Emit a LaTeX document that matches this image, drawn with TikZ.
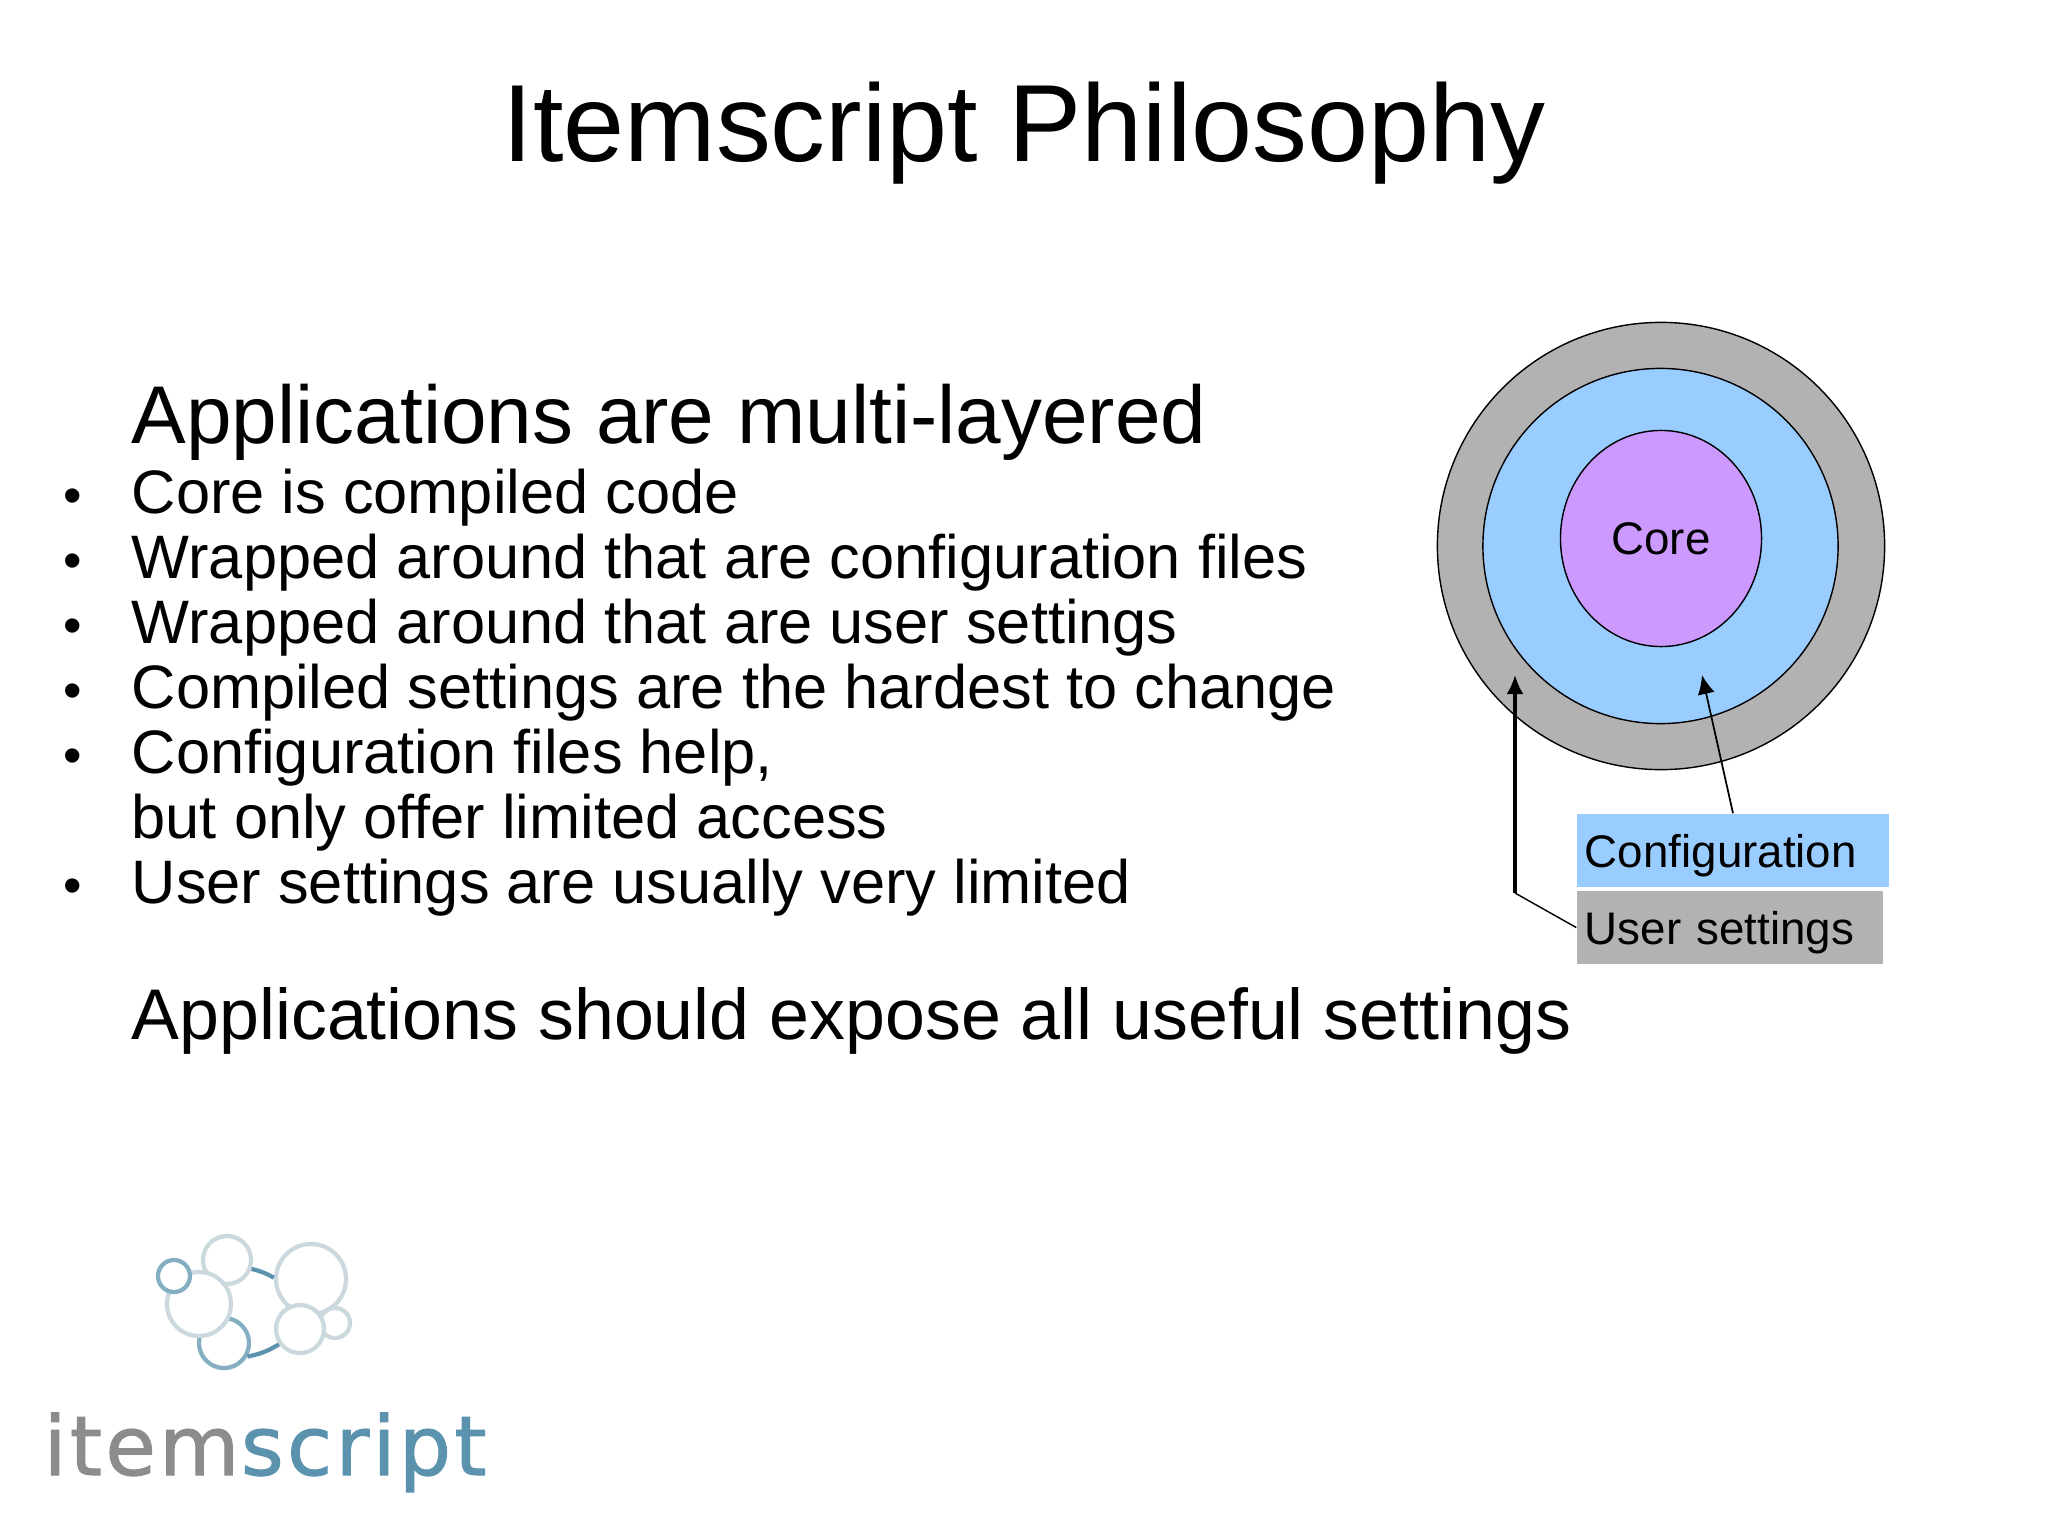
\documentclass[tikz,border=0pt]{standalone}
\usepackage{fontspec}
\setmainfont{Liberation Sans}
\newfontfamily\logofont{DejaVu Sans}[LetterSpace=4,FakeBold=1.2]
\usetikzlibrary{shapes.geometric,arrows.meta}
\definecolor{ringgray}{HTML}{B2B2B2}
\definecolor{ringblue}{HTML}{99CCFF}
\definecolor{ringpurple}{HTML}{CC99FF}
\definecolor{logogray}{HTML}{8A8C8E}
\definecolor{logoteal}{HTML}{5B93AE}
\definecolor{logopale}{HTML}{CBD8DE}
\tikzset{
    titletext/.style={anchor=base,inner sep=0pt,font=\fontsize{31.2}{36}\selectfont},
    headtext/.style={anchor=base west,inner sep=0pt,font=\fontsize{23.3}{28}\selectfont},
    closetext/.style={anchor=base west,inner sep=0pt,font=\fontsize{20.4}{24}\selectfont},
    bodytext/.style={anchor=base west,inner sep=0pt,font=\fontsize{17.45}{21}\selectfont},
    bullettext/.style={anchor=base west,inner sep=0pt,font=\fontsize{15}{18}\selectfont},
    ring/.style={circle,draw=black,line width=0.4pt,inner sep=0pt},
    labelbox/.style={minimum height=0.73cm,inner xsep=0.08cm,inner ysep=0pt,text height=0.4cm,text depth=0.07cm,align=left,font=\fontsize{13}{15}\selectfont},
    pointer/.style={-{Latex[length=0.19cm,width=0.17cm]},black},
    bubble/.style={circle,draw=logopale,fill=white,line width=1.2pt,inner sep=0pt},
    bubbledark/.style={circle,draw=logoteal!75,fill=white,line width=1.2pt,inner sep=0pt},
    logotext/.style={anchor=base west,inner sep=0pt,font=\logofont\fontsize{23.4}{28}\selectfont}
}
\begin{document}
\begin{tikzpicture}[x=0.01cm,y=-0.01cm]
    \useasboundingbox (0,0) rectangle (2048,1536);
    \node[titletext] (title) at (1024,161) {Itemscript Philosophy};
    \node[headtext] (layered) at (131,443) {Applications are multi-layered};
    \node[bodytext] (corecode) at (131,513) {Core is compiled code};
    \node[bodytext] (wrapconfig) at (131,578) {Wrapped around that are configuration files};
    \node[bodytext] (wrapuser) at (131,643) {Wrapped around that are user settings};
    \node[bodytext] (hardest) at (131,708) {Compiled settings are the hardest to change};
    \node[bodytext] (filehelp) at (131,773) {Configuration files help,};
    \node[bodytext] (limited) at (131,838) {but only offer limited access};
    \node[bodytext] (usually) at (131,903) {User settings are usually very limited};
    \node[closetext] (expose) at (131,1039) {Applications should expose all useful settings};
    \node[bullettext] (bulleta) at (63,513) {•};
    \node[bullettext] (bulletb) at (63,578) {•};
    \node[bullettext] (bulletc) at (63,643) {•};
    \node[bullettext] (bulletd) at (63,708) {•};
    \node[bullettext] (bullete) at (63,773) {•};
    \node[bullettext] (bulletf) at (63,903) {•};
    \node[ring,fill=ringgray,minimum size=4.47cm] (outer) at (1661,546) {};
    \node[ring,fill=ringblue,minimum size=3.55cm] (middle) at (1660.5,546) {};
    \node[ring,ellipse,fill=ringpurple,minimum width=2.01cm,minimum height=2.16cm,font=\fontsize{13}{15}\selectfont] (core) at (1661,538.5) {Core};
    \node[labelbox,fill=ringblue,minimum width=3.12cm,text width=2.96cm] (config) at (1733,850.5) {Configuration};
    \node[labelbox,fill=ringgray,minimum width=3.06cm,text width=2.90cm] (user) at (1730,927.5) {User settings};
    \coordinate (configtip) at (1702,675);
    \coordinate (userbend) at (1515,893);
    \coordinate (usertip) at (1515,675);
    \draw[pointer,line width=0.5pt] (config.north) -- (configtip);
    \draw[black,line width=0.4pt] (user.west) -- (userbend);
    \draw[pointer,line width=0.9pt] (userbend) -- (usertip);
    \node[bubble,minimum size=0.48cm] (bubbleb) at (227,1260) {};
    \node[bubbledark,minimum size=0.5cm] (bubbled) at (224,1343) {};
    \node[bubble,minimum size=0.7cm] (bubblee) at (311,1279) {};
    \node[bubble,minimum size=0.3cm] (bubbleg) at (335,1323) {};
    \node[bubble,minimum size=0.48cm] (bubblef) at (300,1329) {};
    \node[bubble,minimum size=0.64cm] (bubblec) at (199,1304) {};
    \node[bubbledark,minimum size=0.32cm] (bubblea) at (174,1276) {};
    \draw[logoteal,line width=1.2pt] (bubbleb.-20) to[bend left=8] (bubblee.178);
    \draw[logoteal,line width=1.2pt] (bubbled.-30) to[bend right=10] (bubblef.216);
    \node[logotext,text=logogray] (logoitem) at (43,1475) {item};
    \node[logotext,text=logoteal] (logoscript) at (logoitem.base east) {script};
\end{tikzpicture}
\end{document}
